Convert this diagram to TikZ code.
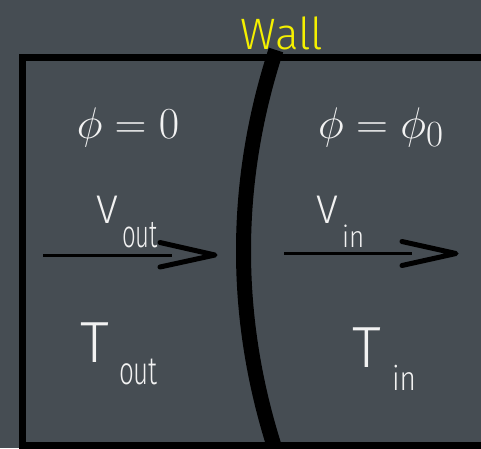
\documentclass[tikz,border=0pt]{standalone}
\usepackage{fontspec}
\newfontfamily\hand{Fira Sans Light}
\definecolor{bg}{RGB}{70,77,83}
\definecolor{wallyellow}{RGB}{245,240,0}
\definecolor{chalk}{RGB}{242,242,242}
\newcommand{\bigmath}[1]{\scalebox{1.78}{\Huge$#1$}}
\begin{document}
\begin{tikzpicture}[x=1pt,y=-1pt,
  lbl/.style={inner sep=0pt,outer sep=0pt,text=chalk},
  hw/.style={lbl,anchor=base west,font=\hand},
  mathlbl/.style={lbl,anchor=base},
  boxline/.style={line width=7pt,black,line join=miter},
  wallline/.style={line width=15pt,black},
  shaft/.style={line width=3pt,black},
  chev/.style={line width=5pt,black,line cap=round,line join=round}]
\useasboundingbox (0,0) rectangle (481,448);
\fill[bg] (0,0) rectangle (481,448);
% box
\coordinate (tr) at (495,57.5);
\coordinate (tl) at (22,57.5);
\coordinate (bl) at (22,445.5);
\coordinate (br) at (495,445.5);
\begin{scope}
\clip (0,0) rectangle (481,448);
\draw[boxline] (tr) -- (tl) -- (bl) -- (br);
% wall
\coordinate (wtop) at (276,50);
\coordinate (wbot) at (277,455);
\draw[wallline] (wtop) .. controls (232,185) and (233,322) .. (wbot);
\end{scope}
% label Wall
\node[lbl,anchor=base,font=\hand\fontsize{44}{48}\selectfont,text=wallyellow] (wall) at (282,49) {Wall};
% phi labels
\node[mathlbl] (phil) at (128,138) {\bigmath{\phi = 0}};
\node[mathlbl] (phir) at (381,138) {\bigmath{\phi = \phi_{\scriptstyle 0}}};
% V out
\node[hw,font=\hand\fontsize{40}{44}\selectfont] (vout) at (96,223) {V};
\node[hw,font=\hand\fontsize{24}{28}\selectfont] (voutsub) at (122,247) {\scalebox{1}[1.6]{out}};
% V in
\node[hw,font=\hand\fontsize{40}{44}\selectfont] (vin) at (316,223) {V};
\node[hw,font=\hand\fontsize{26}{30}\selectfont] (vinsub) at (342,247) {\scalebox{1}[1.15]{in}};
% T out
\node[hw,font=\hand\fontsize{58}{62}\selectfont] (tout) at (80,362) {T};
\node[hw,font=\hand\fontsize{26}{30}\selectfont] (toutsub) at (119,384) {\scalebox{1}[1.5]{out}};
% T in
\node[hw,font=\hand\fontsize{58}{62}\selectfont] (tin) at (352,367) {T};
\node[hw,font=\hand\fontsize{28}{32}\selectfont] (tinsub) at (392,390) {\scalebox{1}[1.2]{in}};
% arrows
\coordinate (la0) at (43,255);
\coordinate (la1) at (172,255);
\coordinate (latip) at (215,255);
\coordinate (laup) at (160,242.5);
\coordinate (ladn) at (160,267);
\draw[shaft] (la0) -- (la1);
\draw[chev] (laup) -- (latip) -- (ladn);
\coordinate (ra0) at (284,253.5);
\coordinate (ra1) at (412,253.5);
\coordinate (ratip) at (456,253.5);
\coordinate (raup) at (402,241.5);
\coordinate (radn) at (402,265.5);
\draw[shaft] (ra0) -- (ra1);
\draw[chev] (raup) -- (ratip) -- (radn);
\end{tikzpicture}
\end{document}
